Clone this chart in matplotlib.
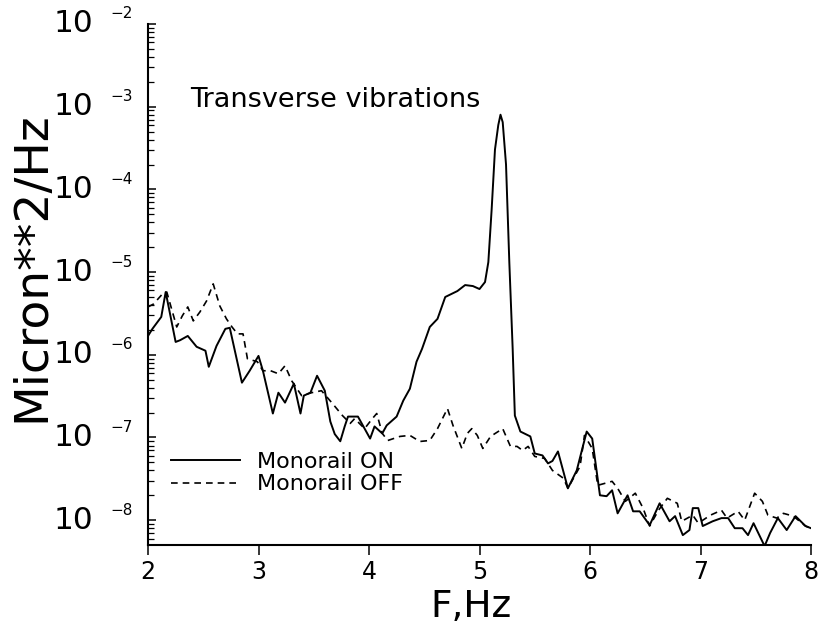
import matplotlib
matplotlib.use("Agg")
import matplotlib.pyplot as plt
import matplotlib.transforms as mtransforms
from matplotlib.ticker import LogLocator, NullFormatter, FixedLocator
import numpy as np

# ---- data ----
freq_on = [2.00, 2.04, 2.12, 2.16, 2.25, 2.29, 2.36, 2.44, 2.52, 2.55, 2.62, 2.70, 2.74,
           2.85, 2.92, 3.00, 3.04, 3.13, 3.18, 3.24, 3.32, 3.38, 3.41, 3.47, 3.53, 3.60,
           3.65, 3.69, 3.74, 3.78, 3.81, 3.90, 4.01, 4.05, 4.12, 4.16, 4.25, 4.31, 4.37,
           4.43, 4.48, 4.55, 4.62, 4.69, 4.80, 4.87, 4.94, 5.00, 5.05, 5.08, 5.11, 5.14,
           5.17, 5.19, 5.21, 5.24, 5.27, 5.30, 5.32, 5.37, 5.46, 5.50, 5.57, 5.62, 5.66,
           5.71, 5.80, 5.88, 5.97, 6.02, 6.09, 6.15, 6.20, 6.25, 6.34, 6.39, 6.45, 6.54,
           6.63, 6.72, 6.77, 6.84, 6.90, 6.93, 6.98, 7.02, 7.11, 7.19, 7.25, 7.31, 7.38,
           7.43, 7.48, 7.58, 7.63, 7.70, 7.78, 7.86, 7.95, 8.00]
psd_on = [1.69e-6, 2.06e-6, 2.87e-6, 5.74e-6, 1.43e-6, 1.50e-6, 1.69e-6, 1.25e-6, 1.12e-6,
          7.16e-7, 1.28e-6, 2.06e-6, 2.12e-6, 4.60e-7, 6.41e-7, 9.7e-7, 6.41e-7, 1.95e-7,
          3.48e-7, 2.64e-7, 4.48e-7, 1.95e-7, 3.21e-7, 3.48e-7, 5.58e-7, 3.68e-7, 1.56e-7,
          1.10e-7, 9.0e-8, 1.36e-7, 1.79e-7, 1.79e-7, 9.7e-8, 1.36e-7, 1.12e-7, 1.40e-7,
          1.79e-7, 2.79e-7, 3.89e-7, 8.24e-7, 1.18e-6, 2.17e-6, 2.72e-6, 5.0e-6, 5.90e-6,
          6.97e-6, 6.78e-6, 6.24e-6, 7.58e-6, 1.32e-5, 5.74e-5, 3.03e-4, 6.0e-4, 8.0e-4,
          6.5e-4, 2.0e-4, 1.3e-5, 1.2e-6, 1.84e-7, 1.18e-7, 1.03e-7, 6.41e-8, 6.07e-8,
          4.86e-8, 5.2e-8, 6.78e-8, 2.43e-8, 4.0e-8, 1.18e-7, 9.7e-8, 2.0e-8, 1.95e-8,
          2.30e-8, 1.21e-8, 2.0e-8, 1.28e-8, 1.28e-8, 8.7e-9, 1.60e-8, 9.7e-9, 1.12e-8,
          6.6e-9, 7.6e-9, 1.40e-8, 1.40e-8, 8.5e-9, 9.7e-9, 1.06e-8, 1.06e-8, 8.0e-9,
          8.0e-9, 6.6e-9, 9.2e-9, 4.86e-9, 7.0e-9, 1.06e-8, 7.6e-9, 1.12e-8, 8.5e-9, 8.0e-9]

freq_off = [2.00, 2.05, 2.13, 2.17, 2.26, 2.31, 2.36, 2.41, 2.47, 2.53, 2.59, 2.65, 2.71,
            2.76, 2.81, 2.86, 2.90, 2.99, 3.04, 3.11, 3.18, 3.24, 3.30, 3.39, 3.48, 3.57,
            3.67, 3.76, 3.83, 3.87, 3.96, 4.03, 4.07, 4.12, 4.17, 4.28, 4.37, 4.46, 4.55,
            4.62, 4.71, 4.76, 4.84, 4.89, 4.93, 4.98, 5.03, 5.10, 5.21, 5.28, 5.34, 5.39,
            5.44, 5.50, 5.59, 5.66, 5.76, 5.80, 5.91, 5.95, 6.02, 6.07, 6.20, 6.25, 6.32,
            6.41, 6.48, 6.54, 6.62, 6.70, 6.79, 6.83, 6.93, 6.98, 7.09, 7.19, 7.24, 7.34,
            7.40, 7.45, 7.49, 7.56, 7.61, 7.69, 7.75, 7.84, 7.95, 8.00]
psd_off = [3.79e-6, 4.11e-6, 5.43e-6, 5.74e-6, 2.17e-6, 2.95e-6, 3.79e-6, 2.57e-6, 3.30e-6,
           4.48e-6, 7.2e-6, 3.89e-6, 2.72e-6, 2.17e-6, 1.79e-6, 1.79e-6, 8.95e-7, 8.24e-7,
           6.41e-7, 6.41e-7, 5.90e-7, 7.37e-7, 4.86e-7, 3.21e-7, 3.48e-7, 3.68e-7, 2.57e-7,
           1.84e-7, 1.48e-7, 1.69e-7, 1.28e-7, 1.69e-7, 1.95e-7, 1.12e-7, 9.2e-8, 1.03e-7,
           1.06e-7, 8.95e-8, 9.2e-8, 1.28e-7, 2.24e-7, 1.40e-7, 7.37e-8, 1.12e-7, 1.28e-7,
           1.06e-7, 7.37e-8, 1.03e-7, 1.28e-7, 7.8e-8, 7.8e-8, 6.97e-8, 7.8e-8, 5.90e-8,
           5.58e-8, 4.0e-8, 3.21e-8, 2.43e-8, 4.48e-8, 1.06e-7, 7.37e-8, 2.64e-8, 2.95e-8,
           2.43e-8, 1.69e-8, 2.12e-8, 1.40e-8, 8.5e-9, 1.32e-8, 1.84e-8, 1.60e-8, 9.7e-9,
           1.15e-8, 9.2e-9, 1.15e-8, 1.32e-8, 1.06e-8, 1.28e-8, 1.0e-8, 1.52e-8, 2.12e-8,
           1.69e-8, 1.15e-8, 1.06e-8, 1.21e-8, 1.12e-8, 8.5e-9, 8.0e-9]

x_ticks = [2, 3, 4, 5, 6, 7, 8]
y_decades = [-8, -7, -6, -5, -4, -3, -2]
labels = ["Monorail ON", "Monorail OFF"]

# ---- figure ----
plt.rcParams['font.family'] = ['DejaVu Sans']
fig = plt.figure(figsize=(8.18, 6.34), dpi=100)
ax = fig.add_axes([148/818, 1 - 545/634, (811-148)/818, (545-24)/634])

ax.plot(freq_on, psd_on, color='black', lw=1.4, solid_joinstyle='round', label=labels[0])
ax.plot(freq_off, psd_off, color='black', lw=1.2, dashes=(4, 3), label=labels[1])

ax.set_yscale('log')
ax.set_xlim(2, 8)
ax.set_ylim(10**-8.3, 1e-2)

for s in ['top', 'right']:
    ax.spines[s].set_visible(False)
for s in ['left', 'bottom']:
    ax.spines[s].set_linewidth(1.5)

ax.xaxis.set_major_locator(FixedLocator(x_ticks))
ax.tick_params(axis='x', direction='out', length=7.5, width=1.1, labelsize=17, pad=3.5)
ax.yaxis.set_major_locator(FixedLocator([10.0**k for k in y_decades]))
ax.yaxis.set_minor_locator(LogLocator(base=10, subs=np.arange(2, 10), numticks=20))
ax.yaxis.set_minor_formatter(NullFormatter())
ax.yaxis.set_major_formatter(NullFormatter())
ax.tick_params(axis='y', which='major', direction='in', length=6, width=1.1)
ax.tick_params(axis='y', which='minor', direction='in', length=4.5, width=0.9)

# y tick labels as "10" with raised exponent
blend = mtransforms.blended_transform_factory(ax.transAxes, ax.transData)
sup_tr = mtransforms.offset_copy(blend, fig=fig, x=0, y=10 * 72 / 100, units='points')
for k in y_decades:
    ax.text(-0.083, 10.0**k, '10', transform=blend, ha='right', va='center',
            fontsize=22.5, clip_on=False)
    ax.text(-0.056, 10.0**k, '\u2212' + str(-k), transform=sup_tr, ha='left',
            va='center', fontsize=11, clip_on=False)

ax.set_ylabel('Micron**2/Hz', fontsize=34, ha='center', va='center')
ax.yaxis.set_label_coords(-0.175, 0.535)
ax.set_xlabel('F,Hz', fontsize=27, ha='center', va='center')
ax.xaxis.set_label_coords(0.487, -0.119)

ax.text(2.38, 1.2e-3, 'Transverse vibrations', fontsize=19.5, ha='left', va='center')

leg = ax.legend(loc='lower left', bbox_to_anchor=(0.035, 0.097), frameon=False,
                fontsize=16, handlelength=3.1, handletextpad=0.75, labelspacing=0.12,
                borderaxespad=0, borderpad=0)

fig.savefig('out.png', dpi=100)
